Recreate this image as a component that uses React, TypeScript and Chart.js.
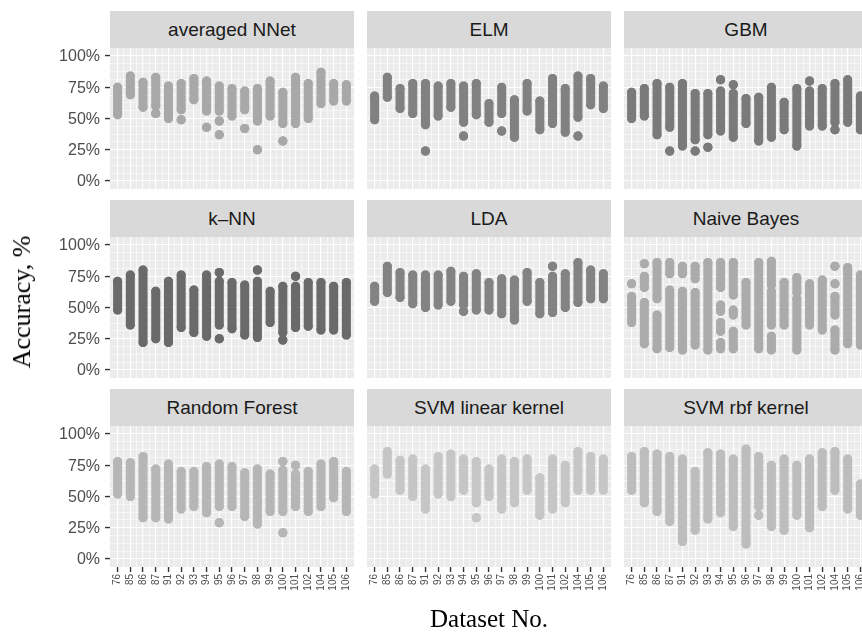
import React, { useEffect, useRef } from "react";
import { Chart, registerables } from "chart.js";

Chart.register(...registerables);

// ---------- data ----------
const DATASETS = ["76", "85", "86", "87", "91", "92", "93", "94", "95", "96", "97", "98", "99", "100", "101", "102", "104", "105", "106"];
const Y_BREAKS = [0, 0.25, 0.5, 0.75, 1];
const Y_LABELS = ["0%", "25%", "50%", "75%", "100%"];
const Y_MINOR = [0.0625, 0.125, 0.1875, 0.3125, 0.375, 0.4375, 0.5625, 0.625, 0.6875, 0.8125, 0.875, 0.9375];

const METHODS = ["averaged NNet", "ELM", "GBM", "k–NN", "LDA", "Naive Bayes", "Random Forest", "SVM linear kernel", "SVM rbf kernel"];
const COLORS = ["#a8a8a8", "#818181", "#7a7a7a", "#6a6a6a", "#838383", "#ababab", "#b6b6b6", "#c6c6c6", "#bdbdbd"];

// each dataset column: list of [low, high] runs of dots (single dot: [v, v])
const NNET = [
  [[0.53, 0.75]], [[0.69, 0.84]], [[0.59, 0.79]], [[0.54, 0.54], [0.6, 0.83]], [[0.5, 0.76]],
  [[0.49, 0.49], [0.57, 0.78]], [[0.65, 0.82]], [[0.43, 0.43], [0.56, 0.8]], [[0.37, 0.37], [0.48, 0.48], [0.56, 0.76]], [[0.52, 0.74]],
  [[0.42, 0.42], [0.57, 0.72]], [[0.25, 0.25], [0.48, 0.74]], [[0.52, 0.8]], [[0.32, 0.32], [0.46, 0.71]], [[0.46, 0.83]],
  [[0.5, 0.78]], [[0.62, 0.87]], [[0.64, 0.78]], [[0.64, 0.77]],
];
const ELM = [
  [[0.49, 0.68]], [[0.67, 0.83]], [[0.58, 0.74]], [[0.54, 0.78]], [[0.24, 0.24], [0.45, 0.78]],
  [[0.52, 0.76]], [[0.59, 0.78]], [[0.36, 0.36], [0.47, 0.76]], [[0.53, 0.78]], [[0.47, 0.62]],
  [[0.4, 0.4], [0.54, 0.75]], [[0.35, 0.65]], [[0.56, 0.78]], [[0.41, 0.64]], [[0.46, 0.82]],
  [[0.39, 0.74]], [[0.36, 0.36], [0.51, 0.84]], [[0.61, 0.82]], [[0.58, 0.76]],
];
const GBM = [
  [[0.5, 0.71]], [[0.52, 0.74]], [[0.37, 0.78]], [[0.24, 0.24], [0.43, 0.75]], [[0.28, 0.78]],
  [[0.24, 0.24], [0.33, 0.7]], [[0.27, 0.27], [0.37, 0.7]], [[0.4, 0.72], [0.81, 0.81]], [[0.35, 0.7], [0.77, 0.77]], [[0.46, 0.66]],
  [[0.32, 0.67]], [[0.35, 0.75]], [[0.41, 0.63]], [[0.28, 0.74]], [[0.44, 0.72], [0.8, 0.8]],
  [[0.44, 0.74]], [[0.41, 0.41], [0.47, 0.78]], [[0.47, 0.81]], [[0.41, 0.68]],
];
const KNN = [
  [[0.48, 0.71]], [[0.36, 0.76]], [[0.22, 0.8]], [[0.25, 0.63]], [[0.22, 0.71]],
  [[0.34, 0.76]], [[0.3, 0.64]], [[0.27, 0.76]], [[0.25, 0.25], [0.36, 0.71], [0.78, 0.78]], [[0.33, 0.7]],
  [[0.28, 0.68]], [[0.26, 0.71], [0.8, 0.8]], [[0.38, 0.63]], [[0.24, 0.24], [0.3, 0.67]], [[0.34, 0.67], [0.75, 0.75]],
  [[0.35, 0.7]], [[0.32, 0.7]], [[0.32, 0.67]], [[0.28, 0.7]],
];
const LDA = [
  [[0.55, 0.67]], [[0.62, 0.83]], [[0.58, 0.78]], [[0.53, 0.76]], [[0.5, 0.76]],
  [[0.52, 0.76]], [[0.55, 0.79]], [[0.47, 0.47], [0.52, 0.75]], [[0.48, 0.77]], [[0.48, 0.7]],
  [[0.45, 0.73]], [[0.4, 0.72]], [[0.55, 0.78]], [[0.45, 0.7]], [[0.46, 0.75], [0.83, 0.83]],
  [[0.5, 0.77]], [[0.54, 0.86]], [[0.57, 0.8]], [[0.57, 0.77]],
];
const NB = [
  [[0.38, 0.59], [0.69, 0.69]], [[0.21, 0.54], [0.66, 0.75], [0.85, 0.85]], [[0.17, 0.44], [0.57, 0.86]], [[0.18, 0.64], [0.77, 0.86]], [[0.16, 0.63], [0.77, 0.83]],
  [[0.2, 0.62], [0.73, 0.83]], [[0.16, 0.86]], [[0.17, 0.22], [0.31, 0.38], [0.47, 0.52], [0.66, 0.86]], [[0.17, 0.31], [0.44, 0.48], [0.6, 0.86]], [[0.36, 0.7]],
  [[0.17, 0.86]], [[0.16, 0.27], [0.36, 0.63], [0.68, 0.87]], [[0.36, 0.7]], [[0.16, 0.57], [0.62, 0.74]], [[0.36, 0.69]],
  [[0.32, 0.72]], [[0.16, 0.32], [0.44, 0.59], [0.69, 0.69], [0.83, 0.83]], [[0.21, 0.82]], [[0.2, 0.76]],
];
const RF = [
  [[0.52, 0.78]], [[0.5, 0.77]], [[0.33, 0.82]], [[0.33, 0.72]], [[0.32, 0.76]],
  [[0.4, 0.7]], [[0.42, 0.7]], [[0.37, 0.74]], [[0.29, 0.29], [0.42, 0.76]], [[0.42, 0.74]],
  [[0.34, 0.69]], [[0.28, 0.72]], [[0.38, 0.68]], [[0.21, 0.21], [0.38, 0.71], [0.78, 0.78]], [[0.42, 0.68], [0.75, 0.75]],
  [[0.38, 0.7]], [[0.42, 0.76]], [[0.49, 0.78]], [[0.38, 0.7]],
];
const SVML = [
  [[0.52, 0.72]], [[0.68, 0.86]], [[0.55, 0.79]], [[0.5, 0.8]], [[0.4, 0.72]],
  [[0.52, 0.82]], [[0.5, 0.84]], [[0.55, 0.8]], [[0.33, 0.33], [0.45, 0.78]], [[0.5, 0.72]],
  [[0.4, 0.8]], [[0.45, 0.78]], [[0.55, 0.8]], [[0.35, 0.65]], [[0.4, 0.8]],
  [[0.45, 0.75]], [[0.55, 0.86]], [[0.55, 0.82]], [[0.55, 0.8]],
];
const SVMR = [
  [[0.55, 0.82]], [[0.45, 0.86]], [[0.38, 0.84]], [[0.3, 0.82]], [[0.14, 0.8]],
  [[0.23, 0.7]], [[0.32, 0.85]], [[0.37, 0.84]], [[0.26, 0.8]], [[0.12, 0.88]],
  [[0.35, 0.35], [0.42, 0.82]], [[0.26, 0.75]], [[0.23, 0.8]], [[0.35, 0.75]], [[0.25, 0.8]],
  [[0.42, 0.85]], [[0.55, 0.86]], [[0.4, 0.8]], [[0.35, 0.6]],
];
const SERIES = [NNET, ELM, GBM, KNN, LDA, NB, RF, SVML, SVMR];

// ---------- layout ----------
const PLOT_LEFT = [110, 367, 624];
const PLOT_TOP = [48, 237, 426];
const PLOT_W = 244;
const PLOT_H = 141;
const STRIP_H = 37;
const Y_AXIS_W = 110;
const X_AXIS_H = 42;

const bgPlugin = {
  id: "panelBg",
  beforeDraw(chart: any) {
    const { ctx, chartArea } = chart;
    ctx.save();
    ctx.fillStyle = "#ebebeb";
    ctx.fillRect(chartArea.left, chartArea.top, chartArea.right - chartArea.left, chartArea.bottom - chartArea.top);
    ctx.restore();
  },
};

// y tick labels, placed with the chart's own y scale
const yLabelPlugin = {
  id: "yLabels",
  afterDraw(chart: any, _args: any, opts: any) {
    if (!opts || !opts.show) return;
    const s = chart.scales.y;
    const ctx = chart.ctx;
    ctx.save();
    ctx.font = "16px 'Liberation Sans', Arial, sans-serif";
    ctx.fillStyle = "#4d4d4d";
    ctx.textAlign = "right";
    ctx.textBaseline = "middle";
    Y_BREAKS.forEach((v, i) => {
      ctx.fillText(Y_LABELS[i], chart.chartArea.left - 10, s.getPixelForValue(v) + 1);
    });
    ctx.restore();
  },
};

function Panel({ idx }: { idx: number }) {
  const ref = useRef<HTMLCanvasElement>(null);
  const col = idx % 3;
  const row = Math.floor(idx / 3);
  const showY = col === 0;
  const showX = row === 2;
  const yW = showY ? Y_AXIS_W : 0;
  const xH = showX ? X_AXIS_H : 0;
  const w = PLOT_W + yW;
  const h = PLOT_H + xH;

  useEffect(() => {
    const color = COLORS[idx];
    const pts: any[] = [];
    SERIES[idx].forEach((segs, i) => {
      segs.forEach(([lo, hi]) => {
        pts.push({ x: i, y: lo }, { x: i, y: hi }, { x: i, y: null });
      });
    });
    const chart = new Chart(ref.current as HTMLCanvasElement, {
      type: "line",
      data: {
        datasets: [
          {
            data: pts,
            borderColor: color,
            backgroundColor: color,
            pointBackgroundColor: color,
            borderWidth: 9,
            borderCapStyle: "round",
            pointRadius: 4.5,
            pointBorderWidth: 0,
            pointHoverRadius: 4.5,
            spanGaps: false,
            tension: 0,
            fill: false,
          } as any,
        ],
      },
      options: {
        animation: false,
        responsive: false,
        maintainAspectRatio: false,
        events: [],
        layout: { padding: 0, autoPadding: false },
        plugins: {
          legend: { display: false },
          tooltip: { enabled: false },
          yLabels: { show: showY },
        } as any,
        scales: {
          x: {
            type: "linear",
            min: -0.6,
            max: 18.6,
            afterBuildTicks: (s: any) => {
              const t: any[] = [];
              DATASETS.forEach((_, i) => {
                t.push({ value: i });
                if (i < DATASETS.length - 1) t.push({ value: i + 0.5 });
              });
              s.ticks = t;
            },
            afterFit: (s: any) => {
              s.height = xH;
              s.paddingLeft = 0;
              s.paddingRight = 0;
            },
            border: { display: false },
            grid: {
              color: "#ffffff",
              lineWidth: (c: any) => (Number.isInteger(c.tick?.value) ? 1.1 : 0.55),
              drawTicks: showX,
              tickLength: 5,
              tickWidth: 1.4,
              tickColor: (c: any) => (Number.isInteger(c.tick?.value) ? "#333333" : "rgba(0,0,0,0)"),
            },
            ticks: {
              display: showX,
              autoSkip: false,
              maxRotation: 90,
              minRotation: 90,
              padding: 2,
              color: "#4d4d4d",
              font: { family: "Liberation Sans, Arial, sans-serif", size: 10 },
              callback: (v: any) => (Number.isInteger(Number(v)) ? DATASETS[Number(v)] ?? "" : ""),
            },
          },
          y: {
            type: "linear",
            min: -0.064,
            max: 1.064,
            afterBuildTicks: (s: any) => {
              s.ticks = [...Y_BREAKS, ...Y_MINOR].sort((a, b) => a - b).map((v) => ({ value: v }));
            },
            afterFit: (s: any) => {
              s.width = yW;
              s.paddingTop = 0;
              s.paddingBottom = 0;
            },
            border: { display: false },
            grid: {
              color: "#ffffff",
              lineWidth: (c: any) => (Y_BREAKS.includes(c.tick?.value) ? 1.1 : 0.55),
              drawTicks: showY,
              tickLength: 5,
              tickWidth: 1.4,
              tickColor: (c: any) => (Y_BREAKS.includes(c.tick?.value) ? "#333333" : "rgba(0,0,0,0)"),
            },
            ticks: { display: false, autoSkip: false },
          },
        },
      },
      plugins: [bgPlugin, yLabelPlugin],
    });
    return () => chart.destroy();
  }, [idx]);

  return (
    <>
      <div
        style={{
          position: "absolute",
          left: PLOT_LEFT[col],
          top: PLOT_TOP[row] - STRIP_H,
          width: PLOT_W,
          height: STRIP_H,
          background: "#d9d9d9",
          color: "#1a1a1a",
          display: "flex",
          alignItems: "center",
          justifyContent: "center",
          font: "19px 'Liberation Sans', Arial, sans-serif",
          whiteSpace: "nowrap",
        }}
      >
        {METHODS[idx]}
      </div>
      <canvas
        ref={ref}
        width={w}
        height={h}
        style={{ position: "absolute", left: PLOT_LEFT[col] - yW, top: PLOT_TOP[row], width: w, height: h }}
      />
    </>
  );
}

export default function App() {
  return (
    <div
      style={{
        position: "fixed",
        left: 0,
        top: 0,
        width: 862,
        height: 633,
        overflow: "hidden",
        background: "#ffffff",
      }}
    >
      {METHODS.map((_, i) => (
        <Panel key={i} idx={i} />
      ))}
      <div
        style={{
          position: "absolute",
          left: 22,
          top: 302,
          transform: "translate(-50%, -50%) rotate(-90deg)",
          font: "26px 'Liberation Serif', 'Times New Roman', serif",
          color: "#000",
          whiteSpace: "nowrap",
        }}
      >
        Accuracy, %
      </div>
      <div
        style={{
          position: "absolute",
          left: 489,
          top: 619,
          transform: "translate(-50%, -50%)",
          font: "25px 'Liberation Serif', 'Times New Roman', serif",
          color: "#000",
          whiteSpace: "nowrap",
        }}
      >
        Dataset No.
      </div>
    </div>
  );
}
